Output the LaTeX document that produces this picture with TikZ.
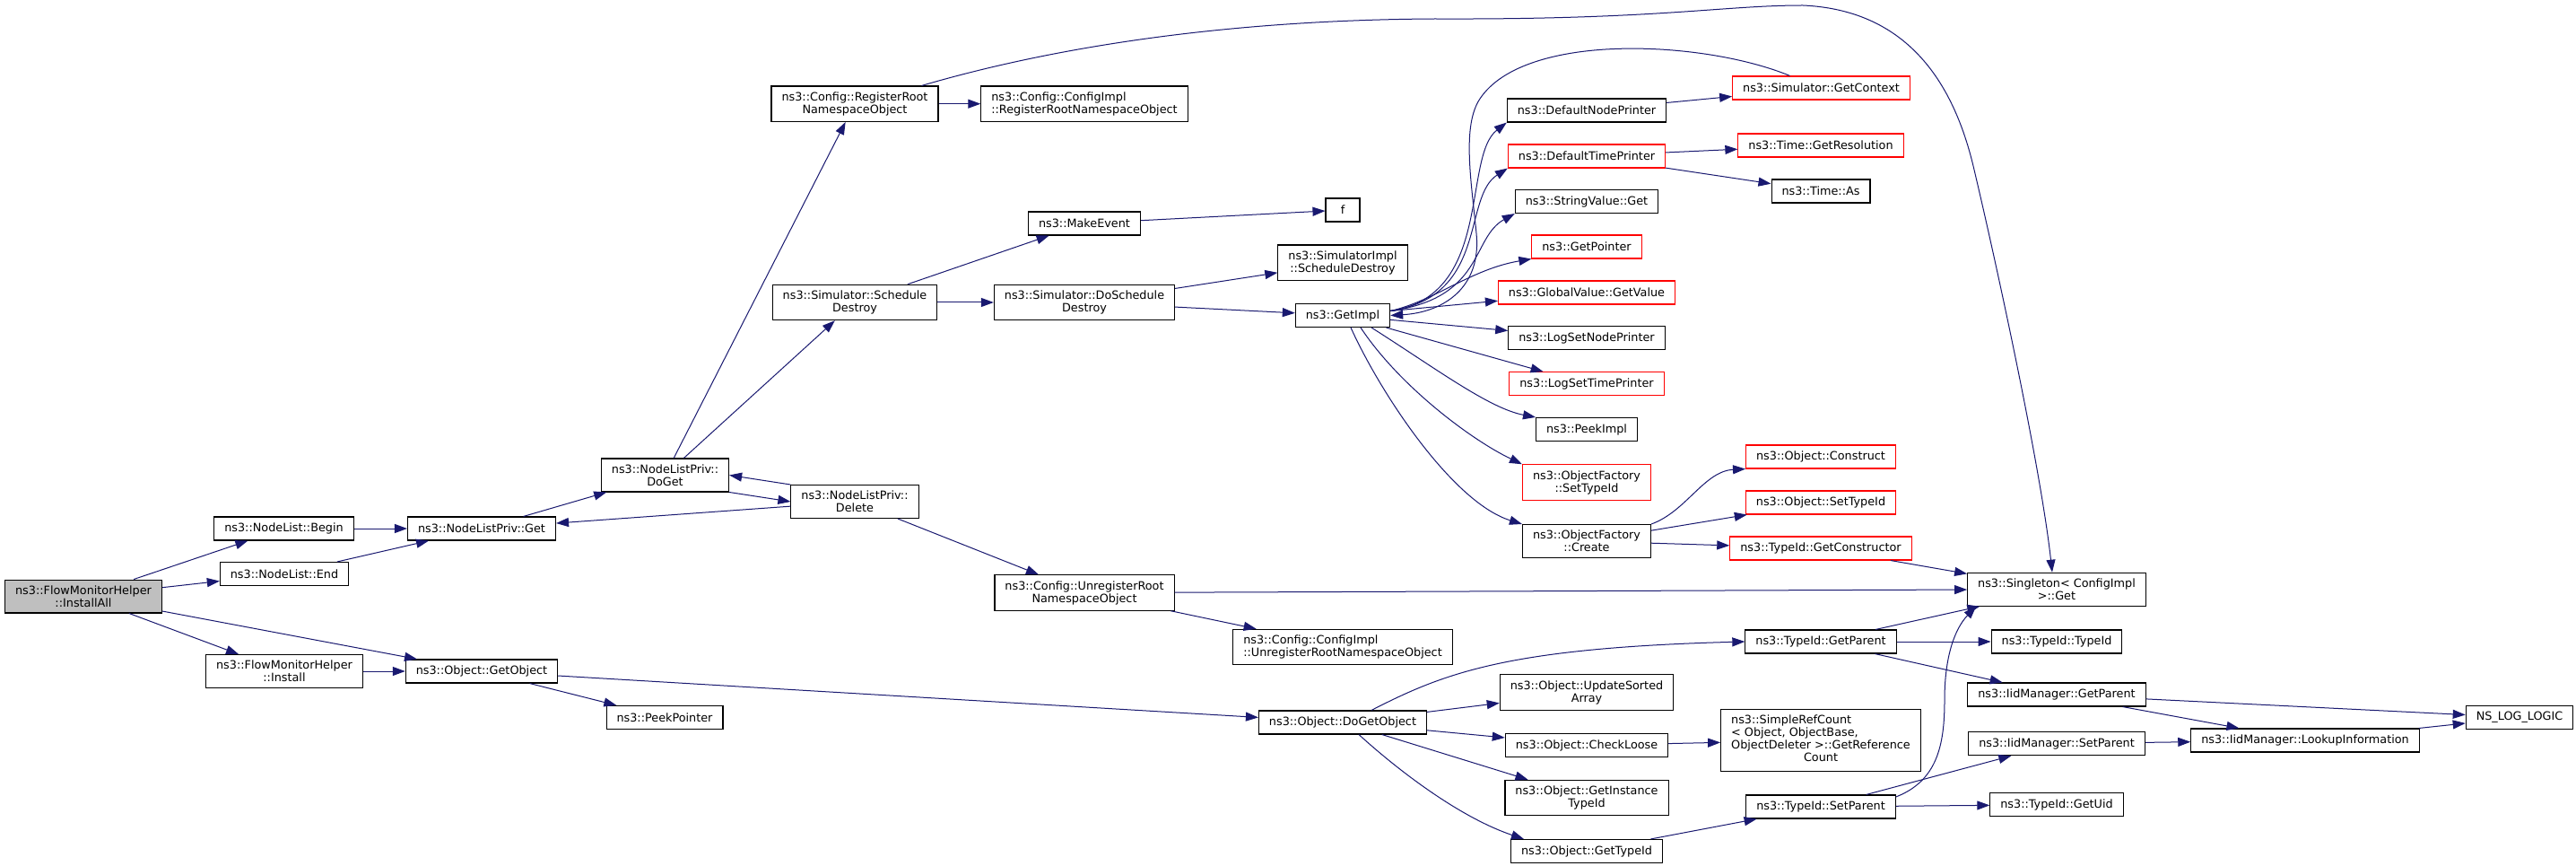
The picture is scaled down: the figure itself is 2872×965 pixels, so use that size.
\documentclass[tikz,border=0pt]{standalone}
\usepackage{fontspec}
\setmainfont{DejaVu Sans}
\usetikzlibrary{arrows.meta}
\definecolor{edgeblue}{HTML}{191970}
\definecolor{rootgray}{HTML}{BFBFBF}

\begin{document}
\begin{tikzpicture}[x=1pt,y=-1pt]
    \tikzset{fn/.style = {shape=rectangle,draw=black,line width=1.1pt,fill=white,
            font=\fontsize{12.8}{14}\selectfont,align=center,
            inner xsep=11.5pt,inner ysep=6.5pt,minimum height=26pt},
        trunc/.style = {fn,draw=red},
        call/.style = {draw=edgeblue,line width=1pt,
            -{Triangle[length=14pt,width=10pt,fill=edgeblue]}}}

    \path[fill=white,use as bounding box] (0,0) rectangle (2872,965);

    % Caller and first level
    \node[fn,fill=rootgray] (installall) at (93,664.5) {ns3::FlowMonitorHelper\\::InstallAll};
    \node[fn] (begin) at (316.5,589) {ns3::NodeList::Begin};
    \node[fn] (nlend) at (317,639.5) {ns3::NodeList::End};
    \node[fn] (fmhinstall) at (317,748) {ns3::FlowMonitorHelper\\::Install};

    % Node list internals
    \node[fn] (nlpget) at (537,589) {ns3::NodeListPriv::Get};
    \node[fn] (getobject) at (537,748) {ns3::Object::GetObject};
    \node[fn] (doget) at (741.5,529.5) {ns3::NodeListPriv::\\DoGet};
    \node[fn] (delete) at (953,559) {ns3::NodeListPriv::\\Delete};
    \node[fn] (peekpointer) at (741,799.5) {ns3::PeekPointer};
    \node[fn] (regroot) at (953,115.7) {ns3::Config::RegisterRoot\\NamespaceObject};
    \node[fn] (schedestroy) at (953,337) {ns3::Simulator::Schedule\\Destroy};

    % Config and simulator
    \node[fn,align=left] (implreg) at (1209,115.7) {ns3::Config::ConfigImpl\\::RegisterRootNamespaceObject};
    \node[fn] (makeevent) at (1209,249) {ns3::MakeEvent};
    \node[fn] (doschedule) at (1209,337) {ns3::Simulator::DoSchedule\\Destroy};
    \node[fn] (unregroot) at (1209,660.5) {ns3::Config::UnregisterRoot\\NamespaceObject};
    \node[fn,minimum width=38pt] (fnode) at (1497,234) {f};
    \node[fn] (simimpl) at (1497,292.7) {ns3::SimulatorImpl\\::ScheduleDestroy};
    \node[fn] (getimpl) at (1497,351.5) {ns3::GetImpl};
    \node[fn,align=left] (implunreg) at (1497,721) {ns3::Config::ConfigImpl\\::UnregisterRootNamespaceObject};
    \node[fn] (dogetobject) at (1497,805) {ns3::Object::DoGetObject};

    % Called from GetImpl and DoGetObject
    \node[fn] (nodeprinter) at (1769,123) {ns3::DefaultNodePrinter};
    \node[trunc] (timeprinter) at (1769,174) {ns3::DefaultTimePrinter};
    \node[fn] (stringget) at (1769,224.5) {ns3::StringValue::Get};
    \node[trunc] (getpointer) at (1769,275) {ns3::GetPointer};
    \node[trunc] (globalget) at (1769,326) {ns3::GlobalValue::GetValue};
    \node[fn] (lognode) at (1769,376.5) {ns3::LogSetNodePrinter};
    \node[trunc] (logtime) at (1769,427.7) {ns3::LogSetTimePrinter};
    \node[fn] (peekimpl) at (1769,478.5) {ns3::PeekImpl};
    \node[trunc] (ofsettype) at (1769,537.5) {ns3::ObjectFactory\\::SetTypeId};
    \node[fn] (ofcreate) at (1769,603) {ns3::ObjectFactory\\::Create};
    \node[fn] (updsorted) at (1769,771.5) {ns3::Object::UpdateSorted\\Array};
    \node[fn] (checkloose) at (1769,830.5) {ns3::Object::CheckLoose};
    \node[fn] (getinst) at (1769,889) {ns3::Object::GetInstance\\TypeId};
    \node[fn] (gettypeid) at (1769,948.5) {ns3::Object::GetTypeId};

    % Next column
    \node[trunc] (getcontext) at (2030.5,98) {ns3::Simulator::GetContext};
    \node[trunc] (getres) at (2030,162) {ns3::Time::GetResolution};
    \node[fn] (timeas) at (2030,213) {ns3::Time::As};
    \node[trunc] (construct) at (2030,509) {ns3::Object::Construct};
    \node[trunc] (objsettype) at (2030,560) {ns3::Object::SetTypeId};
    \node[trunc] (getctor) at (2030,611) {ns3::TypeId::GetConstructor};
    \node[fn] (tidgetparent) at (2030,715) {ns3::TypeId::GetParent};
    \node[fn] (refcount) at (2030,825) {\begin{tabular}{@{}l@{}}ns3::SimpleRefCount\\
        < Object, ObjectBase,\\
        \multicolumn{1}{@{}c@{}}{ObjectDeleter >::GetReference}\\
        \multicolumn{1}{@{}c@{}}{Count}\end{tabular}};
    \node[fn] (tidsetparent) at (2030,899) {ns3::TypeId::SetParent};

    % Right side
    \node[fn] (singleton) at (2293,656.7) {ns3::Singleton< ConfigImpl\\ >::Get};
    \node[fn] (tidtypeid) at (2293,715) {ns3::TypeId::TypeId};
    \node[fn] (iidgetparent) at (2293,774) {ns3::IidManager::GetParent};
    \node[fn] (iidsetparent) at (2293,828.7) {ns3::IidManager::SetParent};
    \node[fn] (getuid) at (2293,896.7) {ns3::TypeId::GetUid};
    \node[fn] (lookup) at (2570,825) {ns3::IidManager::LookupInformation};
    \node[fn] (nslog) at (2809,799.5) {NS\_LOG\_LOGIC};

    % Straight calls
    \foreach \source/\target in {installall/begin, installall/nlend, installall/getobject,
            installall/fmhinstall, begin/nlpget, nlend/nlpget, fmhinstall/getobject,
            nlpget/doget, doget/regroot, doget/schedestroy, delete/nlpget, delete/unregroot,
            getobject/peekpointer, getobject/dogetobject, regroot/implreg,
            schedestroy/makeevent, schedestroy/doschedule, makeevent/fnode,
            doschedule/simimpl, doschedule/getimpl, getimpl/globalget, getimpl/lognode,
            getimpl/logtime, nodeprinter/getcontext, timeprinter/getres, timeprinter/timeas,
            ofcreate/objsettype, ofcreate/getctor, getctor/singleton, unregroot/singleton,
            unregroot/implunreg, dogetobject/updsorted, dogetobject/checkloose,
            dogetobject/getinst, checkloose/refcount, gettypeid/tidsetparent,
            tidgetparent/singleton, tidgetparent/tidtypeid, tidgetparent/iidgetparent,
            tidsetparent/iidsetparent, tidsetparent/getuid, iidgetparent/nslog,
            iidgetparent/lookup, iidsetparent/lookup, lookup/nslog}
        \draw[call] (\source) -- (\target);

    % DoGet and Delete call each other
    \draw[call] (doget.south east) -- (delete.west);
    \draw[call] (delete.north west) -- (doget.east);

    % Curved calls
    \draw[call] ([xshift=-19pt]regroot.north east) .. controls (1200,45) and (1400,22) .. (1600,21)
        .. controls (1850,22) and (1920,6) .. (2010,6)
        .. controls (2100,10) and (2170,60) .. (2200,185)
        .. controls (2225,290) and (2275,520) .. ([xshift=-5pt]singleton.north);
    \draw[call] ([xshift=-35pt]getcontext.north) .. controls (1900,45) and (1700,35) .. (1650,110)
        .. controls (1630,140) and (1640,200) .. (1646,260)
        .. controls (1652,320) and (1610,348) .. (getimpl.east);
    \draw[call] ([yshift=5pt]getimpl.east) .. controls (1665,330) and (1630,175) .. (nodeprinter.south west);
    \draw[call] ([yshift=5pt]getimpl.east) .. controls (1660,330) and (1630,220) .. (timeprinter.south west);
    \draw[call] ([yshift=5pt]getimpl.east) .. controls (1655,332) and (1640,265) .. (stringget.south west);
    \draw[call] ([yshift=5pt]getimpl.east) .. controls (1600,335) and (1640,300) .. (getpointer.south west);
    \draw[call] ([xshift=32pt]getimpl.south) .. controls (1600,410) and (1660,455) .. (peekimpl.north west);
    \draw[call] ([xshift=20pt]getimpl.south) .. controls (1560,430) and (1640,490) .. (ofsettype.north west);
    \draw[call] ([xshift=9pt]getimpl.south) .. controls (1540,440) and (1620,560) .. (ofcreate.north west);
    \draw[call] (ofcreate.north east) .. controls (1880,570) and (1900,525) .. (construct.south west);
    \draw[call] ([xshift=32pt]dogetobject.north) .. controls (1610,750) and (1680,722) .. (tidgetparent.west);
    \draw[call] ([xshift=18pt]dogetobject.south) .. controls (1555,855) and (1625,910) .. ([xshift=15pt]gettypeid.north west);
    \draw[call] ([yshift=11pt]tidsetparent.east) .. controls (2160,870) and (2168,830) .. (2168,780)
        .. controls (2168,730) and (2180,700) .. ([xshift=10pt]singleton.south west);
\end{tikzpicture}
\end{document}
